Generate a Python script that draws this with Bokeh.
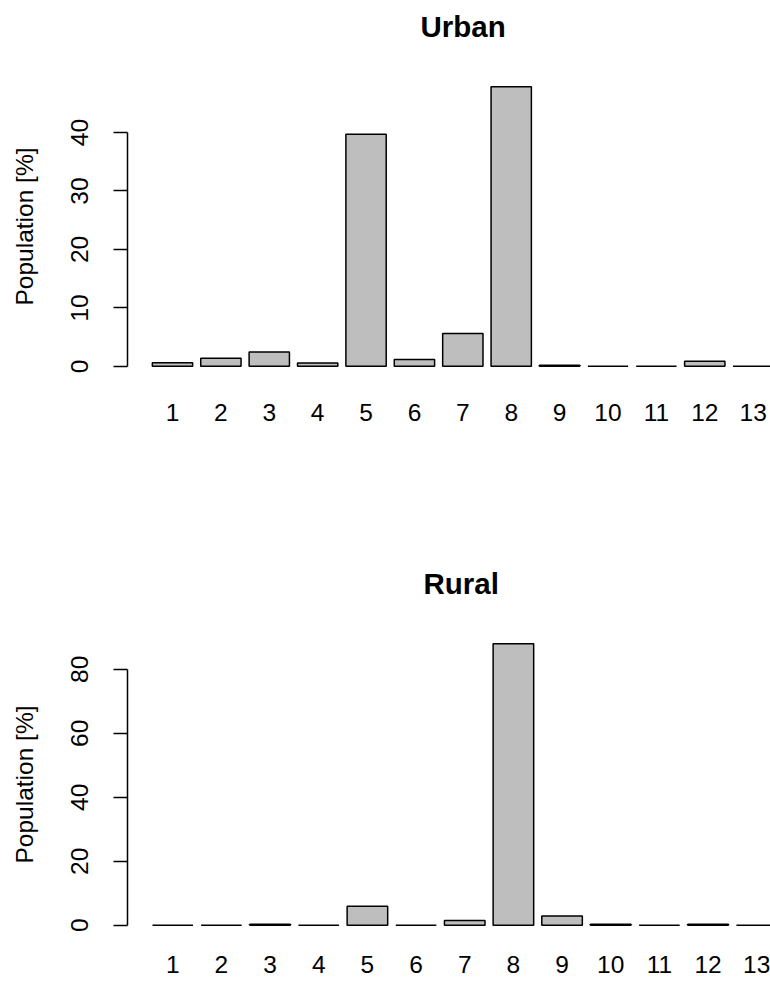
from bokeh.plotting import figure
from bokeh.models import FixedTicker, Range1d, ColumnDataSource
from bokeh.layouts import column
from bokeh.embed import file_html
from bokeh.resources import INLINE

# ---- data ----
categories = [str(i) for i in range(1, 14)]
urban = [0.6, 1.4, 2.45, 0.55, 39.7, 1.15, 5.6, 47.85, 0.2, 0.0, 0.0, 0.85, 0.0]
rural = [0.0, 0.0, 0.3, 0.0, 5.9, 0.0, 1.5, 88.0, 2.9, 0.3, 0.0, 0.3, 0.0]
urban_yticks = [0, 10, 20, 30, 40]
rural_yticks = [0, 20, 40, 60, 80]
titles = ["Urban", "Rural"]
ylabel = "Population [%]"

FONT = "Liberation Sans"
FS = "24.5px"
BAR_W = 1.0
SPACE = 0.2


def panel(title, values, yticks, width, height, b_left, b_top, b_bottom,
          x_end, title_offset, xlab_standoff):
    n = len(values)
    centers = [round(SPACE + BAR_W / 2 + (BAR_W + SPACE) * i, 3) for i in range(n)]
    left_edge = SPACE
    right_edge = (BAR_W + SPACE) * n
    x_start = left_edge - 0.04 * (right_edge - left_edge)
    ymax = max(values)
    src = ColumnDataSource(dict(x=centers, top=values, cat=categories))

    p = figure(width=width, height=height, output_backend="svg",
               toolbar_location=None, tools="",
               x_range=Range1d(x_start, x_end),
               y_range=Range1d(-0.04 * ymax, 1.04 * ymax),
               min_border_left=b_left, min_border_right=0,
               min_border_top=b_top, min_border_bottom=b_bottom)
    p.outline_line_color = None
    p.grid.visible = False
    p.background_fill_color = "white"
    p.border_fill_color = "white"

    p.vbar(x="x", top="top", bottom=0, width=BAR_W, source=src,
           fill_color="#BEBEBE", line_color="black", line_width=1.5)

    # title
    p.title.text = title
    p.title.align = "left"
    p.title.offset = title_offset
    p.title.text_font = FONT
    p.title.text_font_size = "29.5px"
    p.title.text_font_style = "bold"
    p.title.text_color = "black"
    p.title.standoff = 0
    p.title.padding = dict(left=0, right=0, top=0, bottom=33)

    # y axis
    ya = p.yaxis[0]
    ya.ticker = FixedTicker(ticks=yticks)
    ya.bounds = (yticks[0], yticks[-1])
    ya.major_tick_out = 14
    ya.major_tick_in = 0
    ya.minor_tick_line_color = None
    ya.axis_line_width = 1.5
    ya.major_tick_line_width = 1.5
    ya.axis_line_color = "black"
    ya.major_tick_line_color = "black"
    ya.major_label_orientation = "vertical"
    ya.major_label_text_font = FONT
    ya.major_label_text_font_size = FS
    ya.major_label_text_color = "black"
    ya.major_label_standoff = 25
    ya.axis_label = ylabel
    ya.axis_label_text_font = FONT
    ya.axis_label_text_font_size = FS
    ya.axis_label_text_font_style = "normal"
    ya.axis_label_text_color = "black"
    ya.axis_label_standoff = 31

    # x axis (category names, no line, no ticks)
    xa = p.xaxis[0]
    xa.ticker = FixedTicker(ticks=centers)
    xa.major_label_overrides = {c: lab for c, lab in zip(centers, categories)}
    xa.axis_line_color = None
    xa.major_tick_line_color = None
    xa.minor_tick_line_color = None
    xa.major_tick_out = 0
    xa.major_tick_in = 0
    xa.major_label_text_font = FONT
    xa.major_label_text_font_size = FS
    xa.major_label_text_color = "black"
    xa.major_label_standoff = xlab_standoff
    return p


p1 = panel(titles[0], urban, urban_yticks, width=770, height=491,
           b_left=127, b_top=75, b_bottom=114, x_end=15.53,
           title_offset=293, xlab_standoff=26)
p2 = panel(titles[1], rural, rural_yticks, width=770, height=492,
           b_left=123, b_top=141, b_bottom=47, x_end=15.44,
           title_offset=296, xlab_standoff=19)

p = column(p1, p2, spacing=0)

open("out.html", "w").write(file_html(p, INLINE))
